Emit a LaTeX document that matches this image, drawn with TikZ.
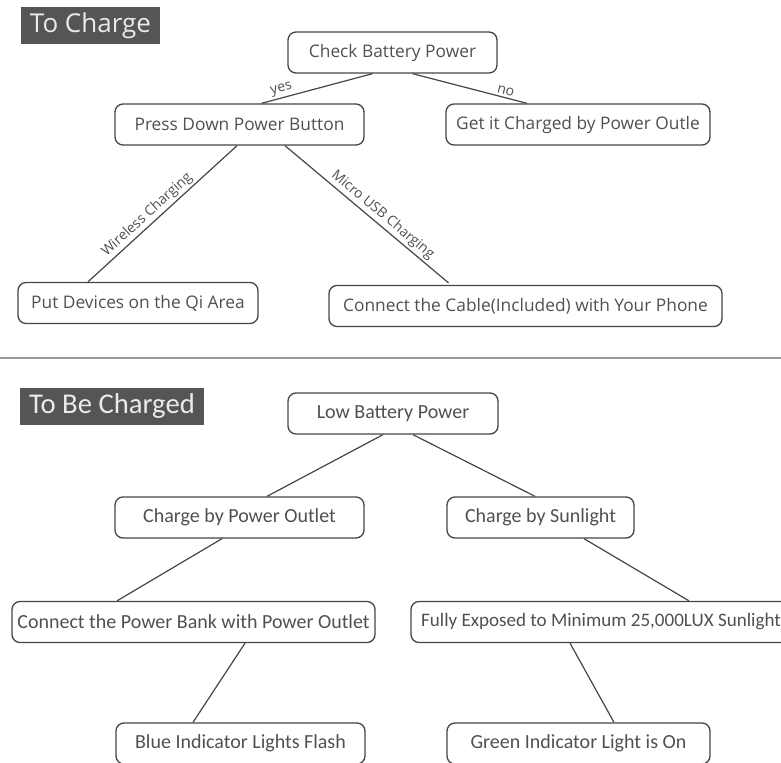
\documentclass[tikz,border=0pt]{standalone}
\usepackage{fontspec}
\setmainfont{Open Sans}
\newfontfamily\condfont{Carlito}
\usetikzlibrary{calc}
\definecolor{boxline}{HTML}{454545}
\definecolor{txt}{HTML}{505050}
\definecolor{titlebg}{HTML}{555555}
\definecolor{titletx}{HTML}{EAEAEA}
\tikzset{
  box/.style={draw=boxline, line width=1pt, rounded corners=6pt, inner sep=0pt,
    minimum height=30.75pt, text=txt, font=\fontsize{13}{15}\selectfont},
  cbox/.style={box, font=\condfont\fontsize{15}{17}\selectfont},
  titlebox/.style={fill=titlebg, text=titletx, inner sep=0pt, minimum height=27.75pt},
  conn/.style={draw=boxline, line width=0.9pt},
  elabel/.style={text=txt, font=\fontsize{10.5}{12}\selectfont, sloped, above, inner sep=1.5pt}
}
\begin{document}
\begin{tikzpicture}[x=0.75pt,y=-0.75pt]
\useasboundingbox (0,0) rectangle (781,763);
\clip (0,0) rectangle (781,763);
% titles
\node[titlebox, minimum width=104.25pt, font=\fontsize{19.5}{21}\selectfont] (t1) at (90.5,25.5) {To Charge};
\node[titlebox, minimum width=138pt, font=\condfont\fontsize{21.5}{23}\selectfont] (t2) at (112,406.5) {To Be Charged};
% separator
\draw[draw=gray!80, line width=1.1pt] (0,358) -- (781,358);
% top boxes
\node[box, minimum width=156.75pt] (cb) at (392.5,52.5) {Check Battery Power};
\node[box, minimum width=186.75pt] (pd) at (239.5,124.5) {Press Down Power Button};
\node[box, minimum width=198pt] (gc) at (578,124.5) {Get it Charged by Power Outle};
\node[box, minimum width=180pt] (pq) at (138,303) {Put Devices on the Qi Area};
\node[box, minimum width=294.75pt] (cc) at (525.5,306) {Connect the Cable(Included) with Your Phone};
% bottom boxes
\node[cbox, minimum width=157.5pt] (lb) at (393,413.5) {Low Battery Power};
\node[cbox, minimum width=186.75pt] (cp) at (239.5,517.5) {Charge by Power Outlet};
\node[cbox, minimum width=140.25pt] (cs) at (540.5,517.5) {Charge by Sunlight};
\node[cbox, minimum width=272.25pt] (pb) at (193.5,622) {Connect the Power Bank with Power Outlet};
\node[cbox, minimum width=285pt, font=\condfont\fontsize{14.3}{16}\selectfont] (fe) at (601,622) {Fully Exposed to Minimum 25,000LUX Sunlight};
\node[cbox, minimum width=186.75pt] (bl) at (240.5,743.5) {Blue Indicator Lights Flash};
\node[cbox, minimum width=197.25pt] (gi) at (578.5,743.5) {Green Indicator Light is On};
% top connectors
\draw[conn] ($(cb.south)+(-20,0)$) -- node[elabel, pos=0.8] {yes} ($(pd.north)+(22,0)$);
\draw[conn] ($(cb.south)+(20,0)$) -- node[elabel, pos=0.8] {no} ($(gc.north)+(-51,0)$);
\draw[conn] ($(pd.south)+(-2.5,0)$) -- node[elabel, pos=0.56] {Wireless Charging} ($(pq.north)+(-50,0)$);
\draw[conn] ($(pd.south)+(45.5,0)$) -- node[elabel, pos=0.56] {Micro USB Charging} ($(cc.north)+(-77,-2)$);
% bottom connectors
\draw[conn] ($(lb.south)+(-10,0)$) -- ($(cp.north)+(27.5,0)$);
\draw[conn] ($(lb.south)+(20,0)$) -- ($(cs.north)+(-5.5,0)$);
\draw[conn] ($(cp.south)+(-17.5,0)$) -- ($(pb.north)+(-76.5,0)$);
\draw[conn] ($(cs.south)+(43.5,0)$) -- ($(fe.north)+(88,0)$);
\draw[conn] ($(pb.south)+(51.5,0)$) -- ($(bl.north)+(-47.5,0)$);
\draw[conn] ($(fe.south)+(-31,0)$) -- ($(gi.north)+(35.5,0)$);
\end{tikzpicture}
\end{document}
